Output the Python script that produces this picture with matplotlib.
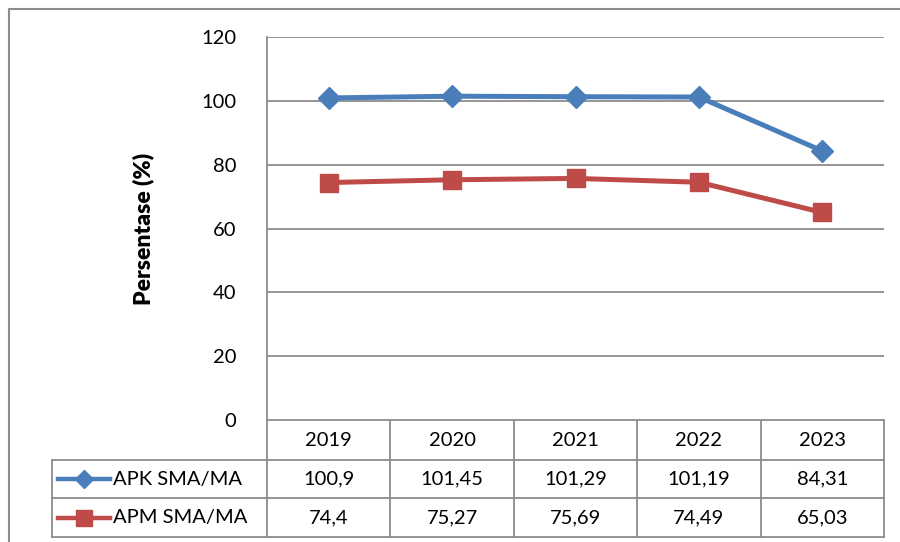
import matplotlib
matplotlib.use("Agg")
import matplotlib.pyplot as plt

years = ["2019", "2020", "2021", "2022", "2023"]
apk = [100.9, 101.45, 101.29, 101.19, 84.31]
apm = [74.4, 75.27, 75.69, 74.49, 65.03]
apk_labels = ["100,9", "101,45", "101,29", "101,19", "84,31"]
apm_labels = ["74,4", "75,27", "75,69", "74,49", "65,03"]
series_names = ["APK SMA/MA", "APM SMA/MA"]

BLUE = "#4A7EBB"
RED = "#BE4B48"
GRID = "#8C8C8C"
W, H = 900, 542
FS = 14.5
plt.rcParams["font.family"] = ["Lato", "DejaVu Sans"]

fig = plt.figure(figsize=(W / 100, H / 100), dpi=100)

# overlay in pixel coords for frame and data table
ov = fig.add_axes([0, 0, 1, 1])
ov.set_xlim(0, W)
ov.set_ylim(H, 0)
ov.axis("off")

# plot area
L, R, T, B = 267, 884, 37, 420
ax = fig.add_axes([L / W, 1 - B / H, (R - L) / W, (B - T) / H])
x = range(len(years))
ax.plot(x, apk, color=BLUE, lw=3.6, marker="D", ms=11.5, zorder=3)
ax.plot(x, apm, color=RED, lw=3.6, marker="s", ms=13, zorder=3)
ax.set_xlim(-0.5, len(years) - 0.5)
ax.set_ylim(0, 120)
ax.set_yticks(range(0, 121, 20))
ax.set_xticks([])
ax.grid(axis="y", color=GRID, lw=1.3)
ax.set_axisbelow(True)
for s in ["top", "right", "bottom"]:
    ax.spines[s].set_visible(False)
ax.spines["left"].set_color(GRID)
ax.spines["left"].set_linewidth(1.3)
ax.tick_params(axis="y", length=0, pad=22, labelsize=FS)
ax.set_ylabel("Persentase (%)", fontsize=16.5, fontweight="heavy", labelpad=34)

# outer chart frame (cropped)
ov.plot([9, 9, W], [H, 9, 9], color=GRID, lw=1.5)

# data table
col_w = (R - L) / len(years)
rows_y = [420, 460, 498, 537]
lc = GRID
ov.plot([L, L], [B, rows_y[-1]], color=lc, lw=1.3)
ov.plot([L, R], [rows_y[0], rows_y[0]], color=lc, lw=1.3)
for y in rows_y[1:]:
    ov.plot([52, R], [y, y], color=lc, lw=1.3)
ov.plot([52, 52], [rows_y[1], rows_y[-1]], color=lc, lw=1.3)
for i in range(1, len(years) + 1):
    xx = L + i * col_w
    ov.plot([xx, xx], [rows_y[0], rows_y[-1]], color=lc, lw=1.3)

for i, yr in enumerate(years):
    cx = L + (i + 0.5) * col_w
    ov.text(cx, (rows_y[0] + rows_y[1]) / 2, yr, ha="center", va="center", fontsize=FS)
    ov.text(cx, (rows_y[1] + rows_y[2]) / 2, apk_labels[i], ha="center", va="center", fontsize=FS)
    ov.text(cx, (rows_y[2] + rows_y[3]) / 2, apm_labels[i], ha="center", va="center", fontsize=FS)

for name, color, mk, ms, (y0, y1) in zip(series_names, [BLUE, RED], ["D", "s"], [9, 11],
                                         [(rows_y[1], rows_y[2]), (rows_y[2], rows_y[3])]):
    cy = (y0 + y1) / 2
    ov.plot([58, 110], [cy, cy], color=color, lw=3.2)
    ov.plot([84], [cy], color=color, marker=mk, ms=ms)
    ov.text(113, cy, name, ha="left", va="center", fontsize=FS)

fig.savefig("out.png", dpi=100)
